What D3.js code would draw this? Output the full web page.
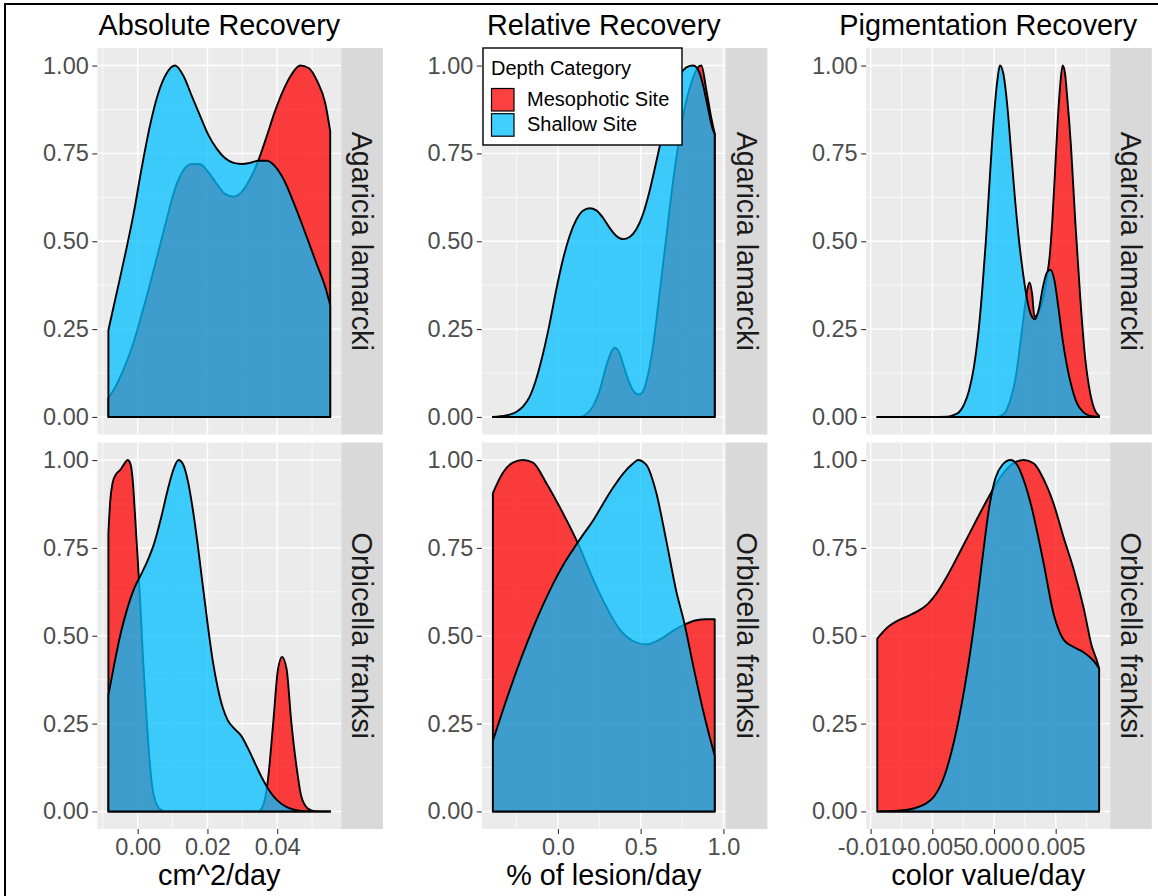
<!DOCTYPE html>
<html>
<head>
<meta charset="utf-8">
<script src="https://cdn.jsdelivr.net/npm/d3@7"></script>
<style>
  body { margin: 0; background: #fff; }
  svg { display: block; }
  text { font-family: "Liberation Sans", Arial, Helvetica, sans-serif; }
</style>
</head>
<body>
<svg id="chart" width="1158" height="896"></svg>
<script>
// Facet labels
const measures = ["Absolute Recovery", "Relative Recovery", "Pigmentation Recovery"];
const axisTitles = ["cm^2/day", "% of lesion/day", "color value/day"];
const species = ["Agaricia lamarcki", "Orbicella franksi"];
const sites = ["Mesophotic Site", "Shallow Site"];
const legendTitle = "Depth Category";

// Axis breaks
const yBreaks = [0, 0.25, 0.5, 0.75, 1];
const yMinor = [0.125, 0.375, 0.625, 0.875];
const absBreaks = [0, 0.02, 0.04];
const absMinor = [-0.01, 0.01, 0.03, 0.05];
const relBreaks = [0, 0.5, 1.0];
const relMinor = [-0.25, 0.25, 0.75];
const pigBreaks = [-0.01, -0.005, 0, 0.005];
const pigMinor = [-0.0075, -0.0025, 0.0025, 0.0075];

// Scaled densities, [value, density / max density]
const absLamarckiMeso = [[-0.0084,0.053],[-0.0060,0.093],[-0.0036,0.146],[-0.0012,0.211],[0.0011,0.290],[0.0035,0.376],[0.0059,0.469],[0.0083,0.562],[0.0107,0.649],[0.0131,0.702],[0.0155,0.720],[0.0179,0.719],[0.0203,0.696],[0.0227,0.663],[0.0251,0.634],[0.0275,0.627],[0.0299,0.641],[0.0322,0.677],[0.0346,0.730],[0.0370,0.799],[0.0394,0.871],[0.0418,0.931],[0.0442,0.976],[0.0466,1.000],[0.0490,0.993],[0.0514,0.957],[0.0538,0.892],[0.0552,0.813]];
const absLamarckiShallow = [[-0.0084,0.247],[-0.0060,0.354],[-0.0036,0.462],[-0.0012,0.577],[0.0011,0.706],[0.0035,0.828],[0.0059,0.921],[0.0083,0.978],[0.0107,1.000],[0.0131,0.971],[0.0155,0.914],[0.0179,0.857],[0.0203,0.802],[0.0227,0.763],[0.0251,0.736],[0.0275,0.723],[0.0299,0.720],[0.0322,0.723],[0.0346,0.729],[0.0370,0.729],[0.0394,0.713],[0.0418,0.677],[0.0442,0.623],[0.0466,0.562],[0.0490,0.498],[0.0514,0.433],[0.0538,0.369],[0.0552,0.318]];
const absFranksiMeso = [[-0.0084,0.791],[-0.0079,0.880],[-0.0072,0.935],[-0.0062,0.960],[-0.0050,0.972],[-0.0038,0.990],[-0.0029,1.000],[-0.0021,0.990],[-0.0014,0.940],[-0.0008,0.850],[0.0000,0.720],[0.0008,0.580],[0.0015,0.440],[0.0024,0.290],[0.0033,0.160],[0.0041,0.075],[0.0051,0.028],[0.0062,0.008],[0.0077,0.001],[0.0105,0],[0.0345,0],[0.0359,0.015],[0.0373,0.086],[0.0388,0.245],[0.0402,0.403],[0.0414,0.440],[0.0427,0.405],[0.0440,0.259],[0.0455,0.130],[0.0469,0.043],[0.0488,0.008],[0.0507,0.001],[0.0552,0]];
const absFranksiShallow = [[-0.0084,0.331],[-0.0067,0.420],[-0.0048,0.510],[-0.0029,0.580],[-0.0010,0.635],[0.0010,0.675],[0.0029,0.715],[0.0048,0.765],[0.0067,0.835],[0.0086,0.915],[0.0105,0.980],[0.0117,1.000],[0.0129,0.990],[0.0144,0.940],[0.0158,0.860],[0.0172,0.760],[0.0187,0.640],[0.0201,0.530],[0.0215,0.430],[0.0230,0.350],[0.0244,0.295],[0.0258,0.260],[0.0278,0.235],[0.0297,0.215],[0.0316,0.180],[0.0335,0.140],[0.0354,0.100],[0.0373,0.066],[0.0392,0.040],[0.0412,0.022],[0.0431,0.011],[0.0459,0.003],[0.0488,0],[0.0552,0]];

const relLamarckiMeso = [[-0.3931,0],[0.1310,0],[0.1714,0.008],[0.2117,0.030],[0.2520,0.075],[0.2923,0.145],[0.3226,0.185],[0.3427,0.197],[0.3690,0.185],[0.3972,0.145],[0.4294,0.100],[0.4577,0.073],[0.4899,0.064],[0.5141,0.072],[0.5444,0.120],[0.5746,0.200],[0.6149,0.354],[0.6552,0.512],[0.6956,0.670],[0.7359,0.800],[0.7762,0.900],[0.8165,0.965],[0.8468,0.995],[0.8669,1.000],[0.8972,0.930],[0.9274,0.850],[0.9476,0.806]];
const relLamarckiShallow = [[-0.3931,0],[-0.3125,0.004],[-0.2520,0.014],[-0.2117,0.029],[-0.1714,0.057],[-0.1310,0.108],[-0.0907,0.179],[-0.0504,0.265],[-0.0101,0.362],[0.0302,0.448],[0.0706,0.515],[0.1109,0.561],[0.1512,0.587],[0.1915,0.594],[0.2319,0.588],[0.2722,0.567],[0.3125,0.538],[0.3528,0.515],[0.3931,0.506],[0.4335,0.512],[0.4738,0.534],[0.5141,0.577],[0.5544,0.644],[0.5948,0.727],[0.6351,0.813],[0.6754,0.892],[0.7157,0.954],[0.7560,0.986],[0.7964,0.999],[0.8165,1.000],[0.8468,0.989],[0.8770,0.945],[0.9073,0.878],[0.9375,0.816],[0.9476,0.806]];
const relFranksiMeso = [[-0.3931,0.906],[-0.3327,0.964],[-0.2722,0.993],[-0.2117,1.000],[-0.1512,0.993],[-0.0706,0.935],[0.0302,0.849],[0.1210,0.763],[0.2117,0.662],[0.2923,0.583],[0.3730,0.518],[0.4536,0.485],[0.5343,0.475],[0.6149,0.489],[0.6956,0.514],[0.7661,0.532],[0.8367,0.544],[0.8972,0.547],[0.9476,0.547]];
const relFranksiShallow = [[-0.3931,0.201],[-0.3327,0.288],[-0.2722,0.371],[-0.2117,0.449],[-0.1512,0.521],[-0.0907,0.587],[-0.0302,0.647],[0.0302,0.700],[0.0907,0.745],[0.1512,0.787],[0.2117,0.827],[0.2722,0.875],[0.3327,0.921],[0.3931,0.961],[0.4536,0.990],[0.4839,1.000],[0.5343,0.986],[0.5948,0.906],[0.6552,0.770],[0.7157,0.626],[0.7661,0.532],[0.8165,0.417],[0.8770,0.288],[0.9476,0.158]];

const pigLamarckiMeso = [[-0.00946,0],[0.00027,0],[0.00054,0.003],[0.00094,0.015],[0.00134,0.050],[0.00175,0.110],[0.00210,0.200],[0.00242,0.290],[0.00269,0.360],[0.00288,0.383],[0.00309,0.350],[0.00328,0.285],[0.00349,0.290],[0.00376,0.310],[0.00403,0.345],[0.00430,0.400],[0.00452,0.460],[0.00473,0.560],[0.00495,0.700],[0.00516,0.840],[0.00538,0.950],[0.00556,1.000],[0.00575,0.980],[0.00591,0.920],[0.00624,0.770],[0.00659,0.555],[0.00699,0.340],[0.00739,0.168],[0.00780,0.067],[0.00820,0.017],[0.00852,0.003]];
const pigLamarckiShallow = [[-0.00946,0],[-0.00511,0],[-0.00376,0.001],[-0.00323,0.006],[-0.00282,0.014],[-0.00242,0.036],[-0.00202,0.075],[-0.00161,0.146],[-0.00129,0.232],[-0.00097,0.354],[-0.00065,0.505],[-0.00032,0.692],[0.00000,0.857],[0.00027,0.957],[0.00048,1.000],[0.00075,0.978],[0.00108,0.885],[0.00140,0.749],[0.00172,0.613],[0.00204,0.498],[0.00237,0.405],[0.00269,0.333],[0.00301,0.290],[0.00333,0.278],[0.00366,0.311],[0.00398,0.372],[0.00430,0.412],[0.00457,0.419],[0.00489,0.390],[0.00522,0.311],[0.00554,0.225],[0.00591,0.146],[0.00632,0.082],[0.00672,0.039],[0.00726,0.013],[0.00780,0.003],[0.00852,0]];
const pigFranksiMeso = [[-0.00946,0.492],[-0.00860,0.525],[-0.00780,0.543],[-0.00699,0.556],[-0.00618,0.570],[-0.00538,0.590],[-0.00457,0.625],[-0.00376,0.672],[-0.00296,0.725],[-0.00215,0.780],[-0.00134,0.835],[-0.00054,0.888],[0.00013,0.930],[0.00081,0.965],[0.00161,0.992],[0.00242,1.000],[0.00323,0.990],[0.00403,0.945],[0.00484,0.875],[0.00564,0.780],[0.00645,0.690],[0.00726,0.580],[0.00793,0.470],[0.00833,0.430],[0.00852,0.407]];
const pigFranksiShallow = [[-0.00946,0],[-0.00780,0.002],[-0.00645,0.009],[-0.00564,0.020],[-0.00484,0.043],[-0.00403,0.100],[-0.00323,0.201],[-0.00242,0.345],[-0.00161,0.532],[-0.00094,0.719],[-0.00040,0.863],[0.00013,0.950],[0.00067,0.986],[0.00134,1.000],[0.00188,0.986],[0.00242,0.942],[0.00296,0.878],[0.00403,0.705],[0.00484,0.561],[0.00564,0.489],[0.00645,0.468],[0.00726,0.453],[0.00806,0.429],[0.00852,0.407]];

// Panel table assembled from the arrays above
const columns = [
  { breaks: absBreaks, minor: absMinor, fmt: ".2f",
    rows: [[absLamarckiMeso, absLamarckiShallow], [absFranksiMeso, absFranksiShallow]] },
  { breaks: relBreaks, minor: relMinor, fmt: ".1f",
    rows: [[relLamarckiMeso, relLamarckiShallow], [relFranksiMeso, relFranksiShallow]] },
  { breaks: pigBreaks, minor: pigMinor, fmt: ".3f",
    rows: [[pigLamarckiMeso, pigLamarckiShallow], [pigFranksiMeso, pigFranksiShallow]] }
];

const siteFill = ["#ff0000", "#00bfff"];
const fillAlpha = 0.75;

// Layout
const colLeft = [97.3, 481.8, 866.2];
const panelW = 244;
const stripW = 41.6;
const rowTop = [48, 442.5];
const panelH = 386.5;
const TEXT = 28.8;
const TICK = 23.5;

const svg = d3.select("#chart");

// outer frame
svg.append("rect").attr("x", 5).attr("y", 4).attr("width", 1160).attr("height", 900)
  .attr("fill", "none").attr("stroke", "#000").attr("stroke-width", 2);

const y = [0, 1].map(r => d3.scaleLinear()
  .domain([-0.05, 1.05]).range([rowTop[r] + panelH, rowTop[r]]));

columns.forEach((col, c) => {
  const all = col.rows.flat(2);
  const ext = d3.extent(all, d => d[0]);
  const pad = (ext[1] - ext[0]) * 0.05;
  const x = d3.scaleLinear().domain([ext[0] - pad, ext[1] + pad])
    .range([colLeft[c], colLeft[c] + panelW]);
  const fmt = d3.format(col.fmt);
  const label = d => fmt(d).replace("\u2212", "-");

  // column title
  svg.append("text")
    .attr("x", colLeft[c] + panelW / 2).attr("y", 35)
    .attr("text-anchor", "middle").attr("font-size", TEXT).attr("fill", "#000")
    .text(measures[c]);

  col.rows.forEach((pair, r) => {
    const ys = y[r];
    const g = svg.append("g");
    g.append("rect")
      .attr("x", colLeft[c]).attr("y", rowTop[r])
      .attr("width", panelW).attr("height", panelH).attr("fill", "#ebebeb");

    // grid
    g.selectAll(null).data(yMinor).join("line")
      .attr("x1", colLeft[c]).attr("x2", colLeft[c] + panelW)
      .attr("y1", d => ys(d)).attr("y2", d => ys(d))
      .attr("stroke", "#fff").attr("stroke-width", 0.7);
    g.selectAll(null).data(col.minor).join("line")
      .attr("x1", d => x(d)).attr("x2", d => x(d))
      .attr("y1", rowTop[r]).attr("y2", rowTop[r] + panelH)
      .attr("stroke", "#fff").attr("stroke-width", 0.7);
    g.selectAll(null).data(yBreaks).join("line")
      .attr("x1", colLeft[c]).attr("x2", colLeft[c] + panelW)
      .attr("y1", d => ys(d)).attr("y2", d => ys(d))
      .attr("stroke", "#fff").attr("stroke-width", 1.4);
    g.selectAll(null).data(col.breaks).join("line")
      .attr("x1", d => x(d)).attr("x2", d => x(d))
      .attr("y1", rowTop[r]).attr("y2", rowTop[r] + panelH)
      .attr("stroke", "#fff").attr("stroke-width", 1.4);

    // density areas: mesophotic first, shallow on top
    const area = d3.area()
      .x(d => x(d[0])).y0(ys(0)).y1(d => ys(d[1]))
      .curve(d3.curveMonotoneX);
    pair.forEach((series, s) => {
      g.append("path").datum(series)
        .attr("d", area)
        .attr("fill", siteFill[s]).attr("fill-opacity", fillAlpha)
        .attr("stroke", "#000").attr("stroke-width", 1.9)
        .attr("stroke-linejoin", "round");
    });

    // strip
    const sx = colLeft[c] + panelW;
    g.append("rect").attr("x", sx).attr("y", rowTop[r])
      .attr("width", stripW).attr("height", panelH).attr("fill", "#d9d9d9");
    g.append("text")
      .attr("transform", `translate(${sx + stripW / 2},${rowTop[r] + panelH / 2}) rotate(90)`)
      .attr("text-anchor", "middle").attr("dy", "0.35em")
      .attr("font-size", TEXT).attr("fill", "#1a1a1a")
      .text(species[r]);

    // y axis
    const ya = svg.append("g").attr("transform", `translate(${colLeft[c]},0)`)
      .call(d3.axisLeft(ys).tickValues(yBreaks).tickFormat(d3.format(".2f"))
        .tickSize(5).tickPadding(3.5));
    ya.select(".domain").remove();
    ya.selectAll(".tick line").attr("stroke", "#333").attr("stroke-width", 1.1);
    ya.selectAll(".tick text").attr("fill", "#4d4d4d").attr("font-size", TICK)
      .attr("font-family", '"Liberation Sans", Arial, sans-serif');

    if (r === 1) {
      const xa = svg.append("g").attr("transform", `translate(0,${rowTop[r] + panelH})`)
        .call(d3.axisBottom(x).tickValues(col.breaks).tickFormat(label)
          .tickSize(5).tickPadding(4));
      xa.select(".domain").remove();
      xa.selectAll(".tick line").attr("stroke", "#333").attr("stroke-width", 1.1);
      xa.selectAll(".tick text").attr("fill", "#4d4d4d").attr("font-size", TICK)
        .attr("font-family", '"Liberation Sans", Arial, sans-serif');

      svg.append("text")
        .attr("x", colLeft[c] + panelW / 2).attr("y", 885)
        .attr("text-anchor", "middle").attr("font-size", TEXT).attr("fill", "#000")
        .text(axisTitles[c]);
    }
  });
});

// legend
const lg = svg.append("g").attr("transform", "translate(483,48)");
lg.append("rect").attr("width", 199).attr("height", 97)
  .attr("fill", "#fff").attr("stroke", "#000").attr("stroke-width", 1.4);
lg.append("text").attr("x", 8).attr("y", 27).attr("font-size", 20).attr("fill", "#000")
  .text(legendTitle);
sites.forEach((s, i) => {
  lg.append("rect").attr("x", 8.5).attr("y", 40.5 + i * 25.2)
    .attr("width", 22.5).attr("height", 22.5)
    .attr("fill", siteFill[i]).attr("fill-opacity", fillAlpha)
    .attr("stroke", "#000").attr("stroke-width", 1.2);
  lg.append("text").attr("x", 44).attr("y", 58 + i * 25.2)
    .attr("font-size", 20).attr("fill", "#000").text(s);
});
</script>
</body>
</html>
